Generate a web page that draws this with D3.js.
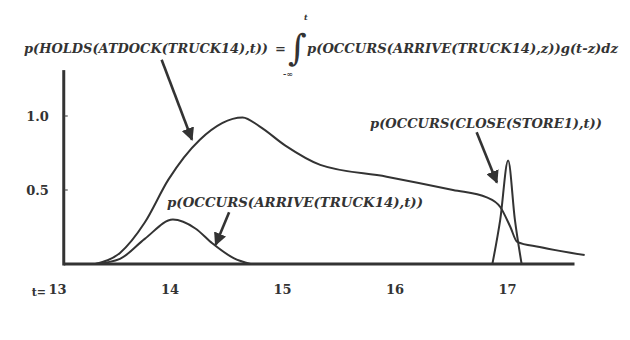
<!DOCTYPE html>
<html>
    <head>
        <meta charset='UTF-8'>
        <title>Truck arrival probabilities</title>
        <script src='https://d3js.org/d3.v7.min.js'></script>
        <style type='text/css'>
        body { margin: 0; background: #fff; }
        svg text { font-family: 'DejaVu Serif', 'Liberation Serif', serif; fill: #333; }
        .lbl { font-style: italic; font-weight: bold; font-size: 13px; }
        .tick text { font-weight: bold; font-size: 13px; }
        </style>
    </head>
    <body>
        <div id="container"></div>
    </body>

    <script>
        // (t in hours, probability)
        var holdsT = [13.34, 13.56, 13.78, 13.99, 14.27, 14.65, 14.80, 15.03, 15.34, 15.93, 16.52, 16.82, 16.94, 17.03, 17.09, 17.29, 17.69];
        var holdsP = [0, 0.075, 0.28, 0.57, 0.84, 0.99, 0.93, 0.80, 0.67, 0.59, 0.50, 0.45, 0.385, 0.25, 0.15, 0.115, 0.06];

        var arriveT = [13.34, 13.56, 13.78, 14.03, 14.23, 14.38, 14.57, 14.72];
        var arriveP = [0, 0.035, 0.17, 0.30, 0.24, 0.14, 0.04, 0];

        var closeT = [16.87, 16.94, 17.01, 17.07, 17.13];
        var closeP = [0, 0.30, 0.70, 0.30, 0];

        var xTicks = [13, 14, 15, 16, 17];
        var yTicks = [0.5, 1.0];
        var xExtent = [13.06, 17.6];
        var yExtent = [0, 1.31];

        var width = 630, height = 340;

        var x = d3.scaleLinear().domain([13, 17]).range([57, 507]);
        var y = d3.scaleLinear().domain([0, 1]).range([264, 116]);

        var svg = d3.select("#container").append("svg")
            .attr("width", width)
            .attr("height", height);

        // axes lines
        svg.append("line")
            .attr("x1", x(xExtent[0])).attr("x2", x(xExtent[1]))
            .attr("y1", y(0)).attr("y2", y(0))
            .attr("stroke", "#333").attr("stroke-width", 3);
        svg.append("line")
            .attr("x1", x(xExtent[0])).attr("x2", x(xExtent[0]))
            .attr("y1", y(yExtent[0]) + 1.5).attr("y2", y(yExtent[1]))
            .attr("stroke", "#333").attr("stroke-width", 3);

        // tick labels
        var xAxis = svg.append("g")
            .attr("transform", "translate(0," + (y(0) + 18) + ")")
            .call(d3.axisBottom(x).tickValues(xTicks).tickSize(0).tickFormat(d3.format("d")));
        xAxis.select(".domain").remove();
        xAxis.attr("font-family", null).attr("font-size", null);

        svg.append("text")
            .attr("x", x(13) - 11).attr("y", y(0) + 32)
            .attr("text-anchor", "end")
            .style("font-weight", "bold").style("font-size", "11px")
            .text("t=");

        var yAxis = svg.append("g")
            .attr("transform", "translate(" + (x(xExtent[0]) - 12) + ",0)")
            .call(d3.axisLeft(y).tickValues(yTicks).tickSize(0).tickFormat(d3.format(".1f")));
        yAxis.select(".domain").remove();
        yAxis.attr("font-family", null).attr("font-size", null);

        // little ticks on the y axis
        svg.selectAll(".ytk")
            .data(yTicks)
            .enter().append("line")
            .attr("x1", x(xExtent[0]) + 1).attr("x2", x(xExtent[0]) + 4)
            .attr("y1", function(d) { return y(d); })
            .attr("y2", function(d) { return y(d); })
            .attr("stroke", "#555").attr("stroke-width", 1.2);

        // curves
        var line = d3.line()
            .x(function(d) { return x(d[0]); })
            .y(function(d) { return y(d[1]); })
            .curve(d3.curveMonotoneX);

        function pairs(ts, ps) { return ts.map(function(t, i) { return [t, ps[i]]; }); }

        [[holdsT, holdsP], [arriveT, arriveP], [closeT, closeP]].forEach(function(s) {
            svg.append("path")
                .datum(pairs(s[0], s[1]))
                .attr("d", line)
                .attr("fill", "none")
                .attr("stroke", "#333")
                .attr("stroke-width", 2);
        });

        // arrows
        svg.append("defs").append("marker")
            .attr("id", "head")
            .attr("viewBox", "0 0 10 10")
            .attr("refX", 9).attr("refY", 5)
            .attr("markerWidth", 5).attr("markerHeight", 5)
            .attr("markerUnits", "strokeWidth")
            .attr("orient", "auto")
            .append("path").attr("d", "M0,0L10,5L0,10z").attr("fill", "#333");

        function arrow(t0, p0, t1, p1) {
            svg.append("line")
                .attr("x1", x(t0)).attr("y1", y(p0))
                .attr("x2", x(t1)).attr("y2", y(p1))
                .attr("stroke", "#333").attr("stroke-width", 2.6)
                .attr("marker-end", "url(#head)");
        }
        arrow(13.93, 1.38, 14.20, 0.84);
        arrow(14.53, 0.35, 14.41, 0.13);
        arrow(16.73, 0.89, 16.91, 0.55);

        // labels
        svg.append("text").attr("class", "lbl")
            .attr("x", 24).attr("y", 53)
            .attr("textLength", 244).attr("lengthAdjust", "spacingAndGlyphs")
            .text("p(HOLDS(ATDOCK(TRUCK14),t))");
        svg.append("text").attr("class", "lbl")
            .attr("x", 275).attr("y", 53)
            .text("=");
        svg.append("text")
            .attr("x", 288).attr("y", 60)
            .style("font-size", "36px").style("font-style", "italic")
            .text("\u222B");
        svg.append("text")
            .attr("x", 304).attr("y", 20)
            .style("font-size", "8px").style("font-weight", "bold").style("font-style", "italic")
            .text("t");
        svg.append("text")
            .attr("x", 283).attr("y", 77)
            .style("font-size", "8px").style("font-weight", "bold")
            .text("-\u221E");
        svg.append("text").attr("class", "lbl")
            .attr("x", 307).attr("y", 53)
            .style("font-size", "12px")
            .attr("textLength", 311).attr("lengthAdjust", "spacingAndGlyphs")
            .text("p(OCCURS(ARRIVE(TRUCK14),z))g(t-z)dz");

        svg.append("text").attr("class", "lbl")
            .attr("x", 167).attr("y", 207)
            .attr("textLength", 256).attr("lengthAdjust", "spacingAndGlyphs")
            .text("p(OCCURS(ARRIVE(TRUCK14),t))");
        svg.append("text").attr("class", "lbl")
            .attr("x", 370).attr("y", 128)
            .attr("textLength", 232).attr("lengthAdjust", "spacingAndGlyphs")
            .text("p(OCCURS(CLOSE(STORE1),t))");
    </script>
</html>
